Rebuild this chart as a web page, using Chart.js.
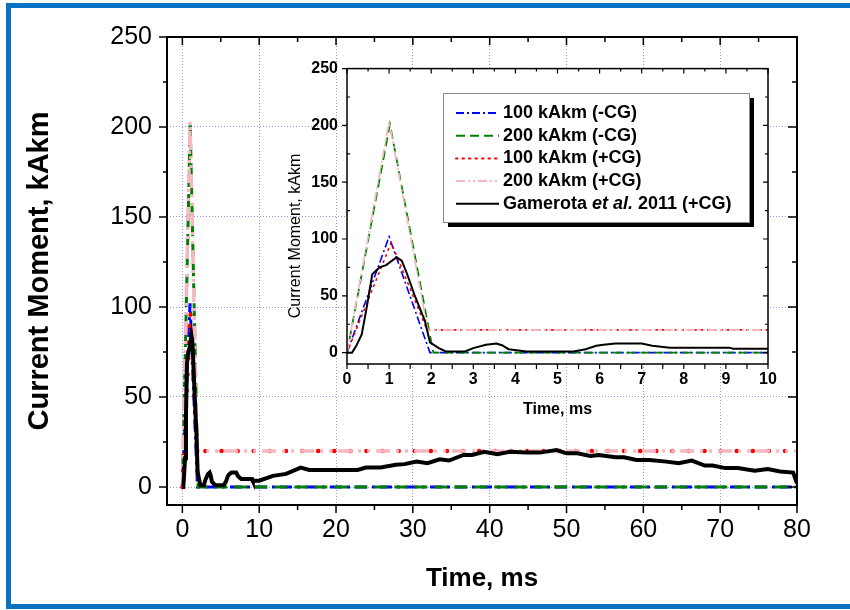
<!DOCTYPE html>
<html>
<head>
<meta charset="utf-8">
<script src="https://cdn.jsdelivr.net/npm/chart.js@4/dist/chart.umd.min.js"></script>
<style>
  html,body{margin:0;padding:0;background:#fff;}
  #wrap{position:relative;width:850px;height:610px;overflow:hidden;}
  #frame{position:absolute;left:6px;top:3px;width:900px;height:606px;border:5px solid #0a72c4;box-sizing:border-box;pointer-events:none;}
  #main{position:absolute;left:0;top:0;}
  #inset{position:absolute;left:270px;top:50px;}
</style>
</head>
<body>
<div id="wrap">
  <canvas id="main" width="850" height="610"></canvas>
  <canvas id="inset" width="520" height="380"></canvas>
  <div id="frame"></div>
</div>
<script>
// ---- data (time in ms, current moment in kAkm) ----
const T_100_NCG = [0, 1.0, 1.97, 80];
const V_100_NCG = [0, 102, 0, 0];
const T_200_NCG = [0, 1.02, 2.05, 80];
const V_200_NCG = [0, 201, 0, 0];
const T_100_PCG = [0, 1.05, 1.9, 80];
const V_100_PCG = [0, 97, 20, 20];
const T_200_PCG = [0, 1.0, 1.92, 80];
const V_200_PCG = [0, 203, 20, 20];
const T_GAM = [0, 0.12, 0.22, 0.35, 0.47, 0.6, 0.77, 0.93, 1.18, 1.3, 1.43, 1.6, 1.85, 1.97, 2.18, 2.35, 2.8, 3.0, 3.3, 3.55, 3.68, 3.84, 4.26,
  5.38, 5.67, 5.92, 6.09, 6.38, 7.0, 7.25, 7.67, 9.08, 9.17, 10, 11.8, 13.5, 15.4, 16.5, 20.1, 22.8, 23.9, 25.8, 27.8, 28.9, 30.5,
  31.9, 33.5, 34.7, 36.6, 37.7, 39.3, 41, 42.6, 44.8, 46.5, 48.7, 50, 51.4, 53.1, 54.2, 56.4, 57.5, 59.1, 60.8, 63, 64.6, 66.3,
  68, 69, 70.7, 72.3, 74.5, 76.2, 77.8, 79.5, 80];
const V_GAM = [0, 0, 6, 16, 40, 69, 75, 77, 84, 81, 69, 51, 28, 9, 4, 1, 1, 4, 7, 8, 6.5, 3, 1,
  1, 3, 6, 7, 8, 8, 6, 4.4, 4.4, 3.5, 3.5, 6.2, 7.3, 10.8, 9.5, 9.5, 9.5, 10.8, 10.8, 12.3, 12.7, 14.1,
  13.2, 15.4, 14.7, 17.8, 17.8, 19.6, 18.2, 19.6, 19.1, 19.1, 20.5, 18.7, 18.7, 17.2, 17.8, 16.5, 16.5, 15, 15, 14.1, 13.2, 14.7,
  11.9, 11.9, 10.5, 10.5, 9, 10, 8.6, 8, 2];

const LABELS = ['100 kAkm (-CG)', '200 kAkm (-CG)', '100 kAkm (+CG)', '200 kAkm (+CG)', 'Gamerota et al. 2011 (+CG)'];
const COLORS = ['#0000ff', '#008000', '#ff0000', '#f5b8c0', '#000000'];

const MAIN_X_TICKS = [0, 10, 20, 30, 40, 50, 60, 70, 80];
const MAIN_Y_TICKS = [0, 50, 100, 150, 200, 250];
const INSET_X_TICKS = [0, 1, 2, 3, 4, 5, 6, 7, 8, 9, 10];
const INSET_Y_TICKS = [0, 50, 100, 150, 200, 250];

const SERIES = [[T_100_NCG, V_100_NCG], [T_200_NCG, V_200_NCG], [T_100_PCG, V_100_PCG], [T_200_PCG, V_200_PCG], [T_GAM, V_GAM]];
const ORDER = [4, 3, 2, 1, 0];
const FONT = 'Arial, "Liberation Sans", sans-serif';
const GRID = 'rgba(120,120,245,0.8)';

function pts(t, v){ return t.map((x, i) => ({x, y: v[i]})); }
function makeSets(widths, dashes){
  return SERIES.map(([t, v], i) => ({
    label: LABELS[i], data: pts(t, v), borderColor: COLORS[i], backgroundColor: COLORS[i],
    borderWidth: widths[i], borderDash: dashes[i], borderCapStyle: i === 2 ? 'round' : 'butt',
    pointRadius: 0, tension: 0, fill: false, order: ORDER[i]
  }));
}

// frame + tick marks on all four sides (positive length = outward)
const frameTicks = {
  id: 'frameTicks',
  beforeDraw(chart, args, o){
    if(!o.fill) return;
    const a = chart.chartArea, ctx = chart.ctx;
    ctx.save(); ctx.fillStyle = o.fill;
    ctx.fillRect(a.left, a.top, a.right - a.left, a.bottom - a.top);
    ctx.restore();
  },
  afterDatasetsDraw(chart, args, o){
    const {ctx, chartArea: a, scales: {x, y}} = chart;
    const isMaj = (v, m) => Math.abs(v / m - Math.round(v / m)) < 1e-6;
    ctx.save();
    ctx.strokeStyle = '#000';
    ctx.lineWidth = o.tw;
    ctx.beginPath();
    for(let v = o.x[0]; v <= o.x[1] + 1e-9; v += o.x[2]){
      const px = x.getPixelForValue(v), m = isMaj(v, o.x[3]);
      const b = o.bottom[m ? 0 : 1], t = o.top[m ? 0 : 1];
      ctx.moveTo(px, a.bottom); ctx.lineTo(px, a.bottom + b);
      ctx.moveTo(px, a.top); ctx.lineTo(px, a.top - t);
    }
    for(let v = o.y[0]; v <= o.y[1] + 1e-9; v += o.y[2]){
      const py = y.getPixelForValue(v), m = isMaj(v, o.y[3]);
      const l = o.left[m ? 0 : 1], r = o.right[m ? 0 : 1];
      ctx.moveTo(a.left, py); ctx.lineTo(a.left - l, py);
      ctx.moveTo(a.right, py); ctx.lineTo(a.right + r, py);
    }
    ctx.stroke();
    ctx.lineWidth = o.lw;
    ctx.strokeRect(a.left, a.top, a.right - a.left, a.bottom - a.top);
    // y title drawn by hand where it sits off-centre
    if(o.yTitle){
      ctx.save();
      ctx.translate(o.yTitle.x, o.yTitle.y);
      ctx.rotate(-Math.PI / 2);
      ctx.font = o.yTitle.font;
      ctx.fillStyle = '#000';
      ctx.textAlign = 'center'; ctx.textBaseline = 'middle';
      ctx.fillText(o.yTitle.text, 0, 0);
      ctx.restore();
    }
    ctx.restore();
  }
};

// boxed legend with drop shadow, "et al." set in italics
const boxLegend = {
  id: 'boxLegend',
  afterDraw(chart, args, o){
    if(!o.show) return;
    const ctx = chart.ctx;
    ctx.save();
    ctx.fillStyle = '#000';
    ctx.fillRect(o.x + 5, o.y + 5, o.w, o.h);
    ctx.fillStyle = '#fff';
    ctx.fillRect(o.x, o.y, o.w, o.h);
    ctx.strokeStyle = '#8a8a8a'; ctx.lineWidth = 1;
    ctx.strokeRect(o.x + 0.5, o.y + 0.5, o.w, o.h);
    chart.data.datasets.forEach((ds, i) => {
      const yy = o.y + o.first + i * o.gap;
      ctx.strokeStyle = ds.borderColor; ctx.lineWidth = o.sw;
      ctx.lineCap = ds.borderCapStyle; ctx.setLineDash(ds.borderDash || []);
      ctx.beginPath(); ctx.moveTo(o.x + o.s0, yy); ctx.lineTo(o.x + o.s1, yy); ctx.stroke();
      ctx.setLineDash([]);
      ctx.fillStyle = '#000'; ctx.textBaseline = 'middle'; ctx.textAlign = 'left';
      const m = ds.label.match(/^(.*?)(et al\.)(.*)$/);
      const parts = m ? [[m[1], ''], [m[2], 'italic '], [m[3], '']] : [[ds.label, '']];
      let tx = o.x + o.tx;
      parts.forEach(([s, st]) => {
        ctx.font = st + 'bold ' + o.fs + 'px ' + FONT;
        ctx.fillText(s, tx, yy);
        tx += ctx.measureText(s).width;
      });
    });
    ctx.restore();
  }
};

Chart.register(frameTicks, boxLegend);
Chart.defaults.font.family = FONT;
Chart.defaults.color = '#000';

// ---------- main chart ----------
new Chart(document.getElementById('main'), {
  type: 'line',
  data: {datasets: makeSets([3, 3, 4.5, 3.5, 4], [[12, 5, 3, 5], [13, 7], [0.1, 16], [14, 6, 3, 6, 3, 6], []])},
  options: {
    responsive: false, animation: false, devicePixelRatio: 1,
    layout: {padding: {left: 0, top: 37, right: 53, bottom: 0}},
    plugins: {
      legend: {display: false}, tooltip: {enabled: false},
      frameTicks: {lw: 2, tw: 1.5, x: [0, 80, 5, 10], y: [0, 250, 25, 50],
        bottom: [8, 5], top: [-8, -5], left: [8, 4], right: [-9, -5]},
      boxLegend: {show: false}
    },
    scales: {
      x: {
        type: 'linear', min: -2, max: 80,
        afterBuildTicks: s => { s.ticks = MAIN_X_TICKS.map(v => ({value: v})); },
        afterFit: s => { s.height = 105; },
        grid: {drawTicks: false, color: GRID, lineWidth: 1},
        border: {display: false, dash: [1, 2]},
        ticks: {font: {size: 25}, color: '#000', padding: 10, maxRotation: 0},
        title: {display: true, text: 'Time, ms', color: '#000', font: {size: 26, weight: 'bold'}, padding: {top: 0, bottom: 16}}
      },
      y: {
        type: 'linear', min: -10, max: 250,
        afterBuildTicks: s => { s.ticks = MAIN_Y_TICKS.map(v => ({value: v})); },
        afterFit: s => { s.width = 167; },
        grid: {drawTicks: false, color: GRID, lineWidth: 1},
        border: {display: false, dash: [1, 2]},
        ticks: {font: {size: 25}, color: '#000', padding: 15},
        title: {display: true, text: 'Current Moment, kAkm', color: '#000', font: {size: 29, weight: 'bold'}, padding: {top: 23, bottom: 0}}
      }
    }
  }
});

// ---------- inset chart ----------
new Chart(document.getElementById('inset'), {
  type: 'line',
  data: {datasets: makeSets([1.6, 1.8, 1.6, 1.8, 2], [[8, 3, 2, 3], [9, 5], [1.5, 5], [9, 3, 2, 3, 2, 3], []])},
  options: {
    responsive: false, animation: false, devicePixelRatio: 1,
    layout: {padding: {left: 0, top: 17, right: 22, bottom: 0}},
    plugins: {
      legend: {display: false}, tooltip: {enabled: false},
      frameTicks: {fill: '#fff', lw: 1.5, tw: 1.2, x: [0, 10, 0.5, 1], y: [0, 250, 25, 50],
        bottom: [5, 5], top: [-5, -3], left: [5, -3], right: [-5, -3],
        yTitle: {text: 'Current Moment, kAkm', x: 26, y: 186, font: '16px ' + FONT}},
      boxLegend: {show: true, x: 173, y: 43, w: 306, h: 129, first: 20, gap: 22.7,
        s0: 13, s1: 56, tx: 60, fs: 18, sw: 2}
    },
    scales: {
      x: {
        type: 'linear', min: 0, max: 10,
        afterBuildTicks: s => { s.ticks = INSET_X_TICKS.map(v => ({value: v})); },
        afterFit: s => { s.height = 66; },
        grid: {display: false, drawTicks: false},
        border: {display: false},
        ticks: {font: {size: 16, weight: 'bold'}, color: '#000', padding: 6, maxRotation: 0},
        title: {display: true, text: 'Time, ms', color: '#000', font: {size: 16, weight: 'bold'}, padding: {top: 0, bottom: 11}}
      },
      y: {
        type: 'linear', min: -10, max: 250,
        afterBuildTicks: s => { s.ticks = INSET_Y_TICKS.map(v => ({value: v})); },
        afterFit: s => { s.width = 77; },
        grid: {display: false, drawTicks: false},
        border: {display: false},
        ticks: {font: {size: 16, weight: 'bold'}, color: '#000', padding: 9}
      }
    }
  }
});
</script>
</body>
</html>
